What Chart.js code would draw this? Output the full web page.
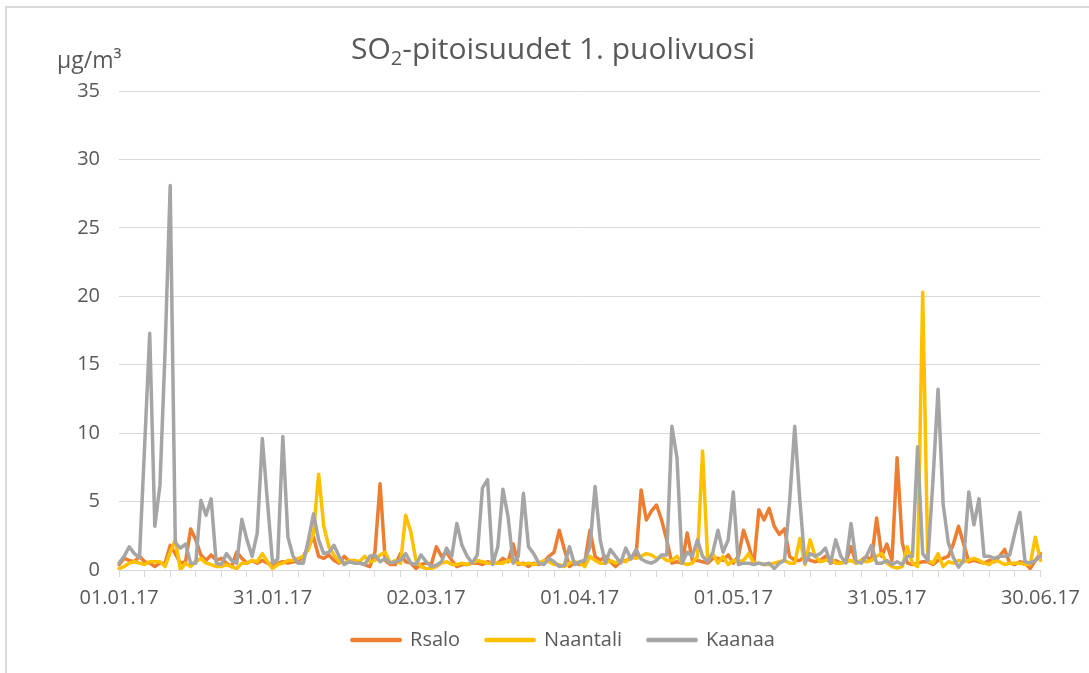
<!DOCTYPE html>
<html>
<head>
<meta charset="utf-8">
<script src="https://cdn.jsdelivr.net/npm/chart.js@4"></script>
<style>
  html, body { margin: 0; padding: 0; background: #fff; overflow: hidden; }
  #frame { position: absolute; left: 5px; top: 6px; width: 2000px; height: 2000px;
           border-top: 2px solid #d9d9d9; border-left: 2px solid #d9d9d9; }
  #chart { position: absolute; left: 0; top: 0; }
</style>
</head>
<body>
<div id="frame"></div>
<canvas id="chart" width="1089" height="673"></canvas>
<script>
// daily SO2 values, 01.01.17 - 30.06.17
const rsalo = [
  0.4, 0.85, 0.7, 0.6, 1.0, 0.6, 0.5, 0.25, 0.5, 0.5,
  1.8, 1.2, 0.5, 0.6, 3.0, 2.2, 1.1, 0.7, 1.1, 0.7,
  0.85, 0.5, 0.25, 1.3, 0.85, 0.5, 0.7, 0.5, 0.7, 0.5,
  0.4, 0.5, 0.6, 0.5, 0.6, 0.6, 1.0, 1.7, 2.4, 1.0,
  0.85, 1.1, 0.7, 0.5, 1.0, 0.6, 0.7, 0.5, 0.4, 0.25,
  1.3, 6.3, 0.7, 0.4, 0.4, 1.2, 0.6, 0.5, 0.1, 0.4,
  0.5, 0.4, 1.7, 1.0, 1.3, 0.7, 0.25, 0.4, 0.4, 0.5,
  0.5, 0.4, 0.6, 0.5, 0.5, 0.85, 0.6, 1.9, 0.4, 0.5,
  0.25, 0.5, 0.4, 0.6, 1.0, 1.3, 2.9, 1.5, 0.25, 0.5,
  0.4, 0.6, 2.9, 1.0, 0.7, 1.0, 0.6, 0.25, 0.6, 0.7,
  0.85, 1.0, 5.85, 3.65, 4.3, 4.75, 3.65, 2.2, 0.5, 0.6,
  0.5, 2.7, 0.7, 0.7, 0.6, 0.5, 0.85, 0.85, 0.7, 1.1,
  0.5, 1.0, 2.9, 1.8, 0.4, 4.4, 3.65, 4.5, 3.2, 2.6,
  3.0, 1.0, 0.7, 0.7, 1.0, 0.7, 0.6, 0.7, 1.0, 0.5,
  0.7, 0.5, 0.6, 1.7, 0.5, 0.7, 1.0, 0.7, 3.8, 1.0,
  1.9, 0.7, 8.2, 2.0, 0.5, 0.4, 0.5, 0.6, 0.6, 0.4,
  0.7, 0.85, 1.0, 1.9, 3.2, 1.9, 0.6, 0.7, 0.6, 0.5,
  0.7, 0.6, 1.0, 1.5, 0.5, 0.4, 0.6, 0.5, 0.1, 0.7,
  1.2
];
const naantali = [
  0.1, 0.25, 0.5, 0.6, 0.5, 0.4, 0.6, 0.6, 0.6, 0.25,
  1.3, 2.2, 0.0, 0.5, 0.25, 0.6, 0.85, 0.5, 0.4, 0.25,
  0.25, 0.4, 0.25, 0.1, 0.5, 0.5, 0.7, 0.6, 1.2, 0.6,
  0.1, 0.4, 0.5, 0.7, 0.7, 0.85, 1.0, 1.5, 2.7, 7.0,
  3.2, 1.7, 1.1, 0.6, 0.5, 0.7, 0.7, 0.6, 1.0, 0.6,
  0.7, 1.1, 1.3, 0.5, 0.7, 0.5, 4.0, 2.8, 0.7, 0.25,
  0.1, 0.1, 0.25, 0.5, 0.6, 0.4, 0.4, 0.5, 0.4, 0.5,
  0.7, 0.6, 0.5, 0.5, 0.5, 0.5, 0.7, 0.6, 0.5, 0.4,
  0.5, 0.4, 0.5, 0.7, 0.6, 0.4, 0.4, 0.25, 0.5, 0.6,
  0.5, 0.25, 1.0, 0.7, 0.5, 0.5, 0.7, 0.5, 0.7, 0.6,
  1.0, 0.85, 1.0, 1.2, 1.1, 0.85, 1.0, 0.7, 0.7, 1.0,
  0.5, 0.4, 0.5, 1.0, 8.7, 0.7, 1.2, 0.5, 1.0, 0.4,
  0.7, 0.6, 0.7, 1.2, 0.5, 0.5, 0.4, 0.4, 0.5, 0.6,
  0.7, 0.5, 0.5, 2.3, 0.4, 2.2, 1.0, 0.6, 0.7, 0.85,
  0.5, 0.5, 0.6, 0.7, 0.5, 0.7, 0.6, 0.7, 1.0, 1.2,
  0.5, 0.25, 0.15, 0.25, 1.7, 0.5, 0.25, 20.3, 0.7, 0.5,
  1.2, 0.25, 0.6, 0.5, 0.7, 0.6, 0.7, 0.85, 0.7, 0.5,
  0.4, 0.7, 0.6, 0.4, 0.5, 0.5, 0.5, 0.4, 0.4, 2.4,
  0.7
];
const kaanaa = [
  0.5, 1.0, 1.7, 1.2, 0.9, 9.0, 17.3, 3.2, 6.2, 16.0,
  28.1, 2.0, 1.6, 1.9, 0.5, 0.5, 5.1, 4.0, 5.2, 0.5,
  0.4, 1.2, 0.7, 0.5, 3.7, 2.2, 1.0, 2.7, 9.6, 5.0,
  0.5, 0.8, 9.75, 2.4, 1.0, 0.5, 0.5, 2.2, 4.1, 2.2,
  1.2, 1.3, 1.8, 1.0, 0.4, 0.6, 0.5, 0.5, 0.4, 1.0,
  1.1, 0.6, 0.85, 0.5, 0.6, 0.7, 1.2, 0.5, 0.4, 1.1,
  0.6, 0.25, 0.35, 0.6, 1.6, 1.0, 3.4, 1.8, 1.0, 0.5,
  1.1, 6.0, 6.6, 0.4, 1.7, 5.9, 3.9, 0.5, 1.0, 5.6,
  1.7, 1.2, 0.5, 0.4, 0.85, 0.6, 0.25, 0.35, 1.7, 0.4,
  0.6, 0.7, 1.7, 6.1, 2.2, 0.5, 1.5, 1.0, 0.5, 1.6,
  0.8, 1.5, 0.8, 0.6, 0.5, 0.7, 1.1, 1.1, 10.5, 8.2,
  0.5, 1.3, 1.0, 2.2, 1.0, 0.6, 1.3, 2.9, 1.3, 2.2,
  5.7, 0.4, 0.5, 0.5, 0.4, 0.5, 0.4, 0.5, 0.1, 0.5,
  0.7, 5.0, 10.5, 5.1, 0.5, 1.2, 1.0, 1.2, 1.6, 0.5,
  2.2, 1.0, 0.5, 3.4, 0.6, 0.5, 1.0, 1.8, 0.5, 0.5,
  0.7, 0.4, 0.6, 0.4, 1.0, 1.0, 9.0, 1.2, 0.7, 6.5,
  13.2, 4.8, 2.0, 0.9, 0.2, 0.7, 5.7, 3.3, 5.2, 1.0,
  1.0, 0.85, 1.0, 1.0, 1.1, 2.7, 4.2, 0.6, 0.5, 0.7,
  1.0
];
const tickLabels = ['01.01.17', '31.01.17', '02.03.17', '01.04.17', '01.05.17', '31.05.17', '30.06.17'];

// one category per day
const days = [];
for (let i = 0; i < rsalo.length; i++) {
  const d = new Date(2017, 0, 1 + i);
  const dd = String(d.getDate()).padStart(2, '0');
  const mm = String(d.getMonth() + 1).padStart(2, '0');
  days.push(dd + '.' + mm + '.17');
}

const textColor = '#595959';
const gridColor = '#d9d9d9';
const fontFamily = "'Open Sans', sans-serif";

const headings = {
  id: 'headings',
  afterLayout(chart) {
    // excel centres the legend a bit right of the canvas middle
    chart.legend.left += 42;
    chart.legend.right += 42;
  },
  afterDraw(chart) {
    const ctx = chart.ctx;
    ctx.save();
    ctx.fillStyle = textColor;
    ctx.textBaseline = 'alphabetic';
    ctx.textAlign = 'left';

    // title with subscript 2
    const big = '30px ' + fontFamily;
    const small = '20px ' + fontFamily;
    ctx.font = big;
    const w1 = ctx.measureText('SO').width;
    const w3 = ctx.measureText('-pitoisuudet 1. puolivuosi').width;
    ctx.font = small;
    const w2 = ctx.measureText('2').width;
    let x = 553 - (w1 + w2 + w3) / 2;
    const y = 59;
    ctx.font = big;
    ctx.fillText('SO', x, y);
    x += w1;
    ctx.font = small;
    ctx.fillText('2', x, y + 6);
    x += w2;
    ctx.font = big;
    ctx.fillText('-pitoisuudet 1. puolivuosi', x, y);

    // unit
    ctx.font = '23px ' + fontFamily;
    ctx.fillText('µg/m³', 57, 68);
    ctx.restore();
  }
};

const ctx = document.getElementById('chart').getContext('2d');
new Chart(ctx, {
  type: 'line',
  data: {
    labels: days,
    datasets: [
      { label: 'Rsalo', data: rsalo, borderColor: '#ED7D31', backgroundColor: '#ED7D31', order: 3 },
      { label: 'Naantali', data: naantali, borderColor: '#FFC000', backgroundColor: '#FFC000', order: 2 },
      { label: 'Kaanaa', data: kaanaa, borderColor: '#A5A5A5', backgroundColor: '#A5A5A5', order: 1 }
    ]
  },
  options: {
    responsive: false,
    animation: false,
    layout: { padding: { left: 0, right: 46, top: 91, bottom: 13 } },
    elements: {
      line: { borderWidth: 3.5, tension: 0, borderJoinStyle: 'round', borderCapStyle: 'round' },
      point: { radius: 0, hoverRadius: 0 }
    },
    scales: {
      x: {
        offset: false,
        grid: { display: true, drawOnChartArea: false, drawTicks: true, tickLength: 7, color: gridColor },
        border: { display: true, color: gridColor },
        ticks: {
          autoSkip: false,
          maxRotation: 0,
          padding: 9,
          color: textColor,
          font: { family: fontFamily, size: 20 },
          callback: function (value, index) {
            const label = days[index];
            if (tickLabels.includes(label)) return label;
            if (index % 5 === 0) return '';
            return null;
          }
        },
        afterFit: (scale) => { scale.height = 34; }
      },
      y: {
        min: 0,
        max: 35,
        grid: { color: gridColor, drawTicks: false },
        border: { display: false },
        ticks: {
          stepSize: 5,
          padding: 19,
          color: textColor,
          font: { family: fontFamily, size: 20 }
        },
        afterFit: (scale) => { scale.width = 119; }
      }
    },
    plugins: {
      title: { display: false },
      tooltip: { enabled: false },
      legend: {
        position: 'bottom',
        labels: {
          color: textColor,
          font: { family: fontFamily, size: 20 },
          boxWidth: 48,
          boxHeight: 1,
          padding: 26,
          sort: (a, b) => a.datasetIndex - b.datasetIndex
        }
      }
    }
  },
  plugins: [headings]
});
</script>
</body>
</html>
